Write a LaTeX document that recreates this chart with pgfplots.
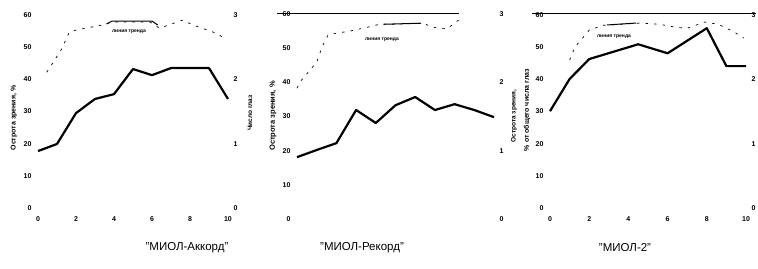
\documentclass[border=0pt]{standalone}
\usepackage{fontspec}
\setmainfont{Liberation Sans}
\usepackage{pgfplots}
\pgfplotsset{compat=1.18}
\pgfplotsset{
 panel/.style={
  scale only axis, enlargelimits=false, clip=false,
  xmin=0, xmax=10, ymin=0, ymax=60,
  axis line style={draw=none}, major tick length=0pt,
  ytick={0,10,...,60}, xtick={0,2,...,10},
  tick label style={font=\fontsize{7}{8}\selectfont\bfseries},
  /pgf/number format/assume math mode=true,
  yticklabel style={xshift=-3pt},
  xticklabel style={yshift=-5pt},
  anchor=south west,
 },
 rpanel/.style={
  scale only axis, enlargelimits=false, clip=false,
  xmin=0, xmax=10, ymin=0, ymax=3,
  axis line style={draw=none}, major tick length=0pt,
  ytick={0,1,2,3}, axis y line*=right, hide x axis,
  tick label style={font=\fontsize{7}{8}\selectfont\bfseries},
  /pgf/number format/assume math mode=true,
  yticklabel style={xshift=2pt},
  anchor=south west,
 },
 main/.style={black, line width=2.2pt, line join=round, no markers},
 trend/.style={black, line width=0.7pt, dash pattern=on 2.5pt off 6pt, no markers},
 seg/.style={black, line width=1pt, no markers},
}
\begin{document}
\begin{tikzpicture}
\path[use as bounding box] (0,0) rectangle (758pt,268pt);

% ---------- Panel 1 ----------
\begin{axis}[panel, at={(38pt,60pt)}, width=190pt, height=193pt]
\addplot[main] coordinates {(0,17.7)(1,19.9)(2,29.5)(3,33.9)(4,35.4)(5,43.2)(6,41.3)(7,43.5)(8,43.5)(9,43.5)(10,33.9)};
\addplot[trend] coordinates {(0.46,42.2)(0.88,46.0)(1.24,49.4)(1.65,54.7)(2.0,55.3)(3.3,56.8)(3.9,57.8)(5.9,57.8)(6.4,55.9)(7.6,58.4)(8.2,56.8)(9.4,54.3)(9.8,52.8)};
\addplot[seg] coordinates {(3.6,57.2)(3.9,58.1)(6.0,58.1)(6.3,56.9)};
\end{axis}
\begin{axis}[rpanel, at={(38pt,60pt)}, width=190pt, height=193pt]
\end{axis}

% ---------- Panel 2 ----------
\begin{axis}[panel, at={(297pt,49pt)}, width=197pt, height=205pt, xticklabels={}]
\addplot[main] coordinates {(0,18.1)(1,20.2)(2,22.2)(3,31.9)(4,28.1)(5,33.3)(6,35.7)(7,31.9)(8,33.6)(9,31.9)(10,29.8)};
\addplot[trend] coordinates {(0,38.3)(0.15,40.1)(1.0,45.9)(1.27,50.3)(1.57,53.8)(2.0,54.4)(2.7,55.0)(3.55,56.1)(4.2,57.0)(5.0,57.0)(5.9,57.3)(6.4,57.3)(6.9,56.1)(7.6,55.6)(8.2,58.2)};
\addplot[seg] coordinates {(4.4,57.0)(6.3,57.3)};
\addplot[black, line width=0.9pt, no markers] coordinates {(-1.0,60.2)(8.2,60.2)};
\end{axis}
\begin{axis}[rpanel, at={(297pt,49pt)}, width=197pt, height=205pt]
\end{axis}

% ---------- Panel 3 ----------
\begin{axis}[panel, at={(550pt,60pt)}, width=196pt, height=193pt]
\addplot[main] coordinates {(0,30.1)(1,40.1)(2,46.3)(4.5,50.9)(6,48.1)(8,55.9)(9,44.1)(10,44.1)};
\addplot[trend] coordinates {(1.0,46.0)(1.27,50.0)(2.0,55.3)(2.7,56.8)(3.55,57.1)(4.6,57.5)(5.6,57.1)(6.4,56.2)(7.0,55.9)(7.9,57.8)(8.6,57.1)(9.4,54.7)(9.9,52.8)};
\addplot[seg] coordinates {(2.9,56.9)(4.4,57.5)};
\addplot[black, line width=0.9pt, no markers] coordinates {(-0.9,60.6)(10.5,60.6)};
\end{axis}
\begin{axis}[rpanel, at={(550pt,60pt)}, width=196pt, height=193pt]
\end{axis}

% ---------- axis titles ----------
\node[rotate=90, font=\fontsize{7}{8}\selectfont\bfseries] at (14pt,150pt) {Острота зрения, \%};
\node[rotate=90, font=\fontsize{6.5}{8}\selectfont\bfseries] at (250pt,155pt) {Число глаз};
\node[rotate=90, font=\fontsize{7.5}{8}\selectfont\bfseries] at (273pt,152pt) {Острота зрения, \%};
\node[rotate=90, font=\fontsize{6.5}{8}\selectfont\bfseries] at (514pt,152pt) {Острота зрения,};
\node[rotate=90, font=\fontsize{7}{8}\selectfont\bfseries] at (527pt,158pt) {\% от общего числа глаз};

% ---------- trend labels ----------
\node[font=\fontsize{5}{6}\selectfont\bfseries] at (129pt,236pt) {линия тренда};
\node[font=\fontsize{5}{6}\selectfont\bfseries] at (382pt,228pt) {линия тренда};
\node[font=\fontsize{5}{6}\selectfont\bfseries] at (614pt,231pt) {линия тренда};

% ---------- panel titles ----------
\node[font=\fontsize{11.5}{13}\selectfont] at (187pt,20pt) {"МИОЛ-Аккорд"};
\node[font=\fontsize{11.5}{13}\selectfont] at (362pt,20pt) {"МИОЛ-Рекорд"};
\node[font=\fontsize{11.5}{13}\selectfont] at (625pt,20pt) {"МИОЛ-2"};
\end{tikzpicture}
\end{document}
